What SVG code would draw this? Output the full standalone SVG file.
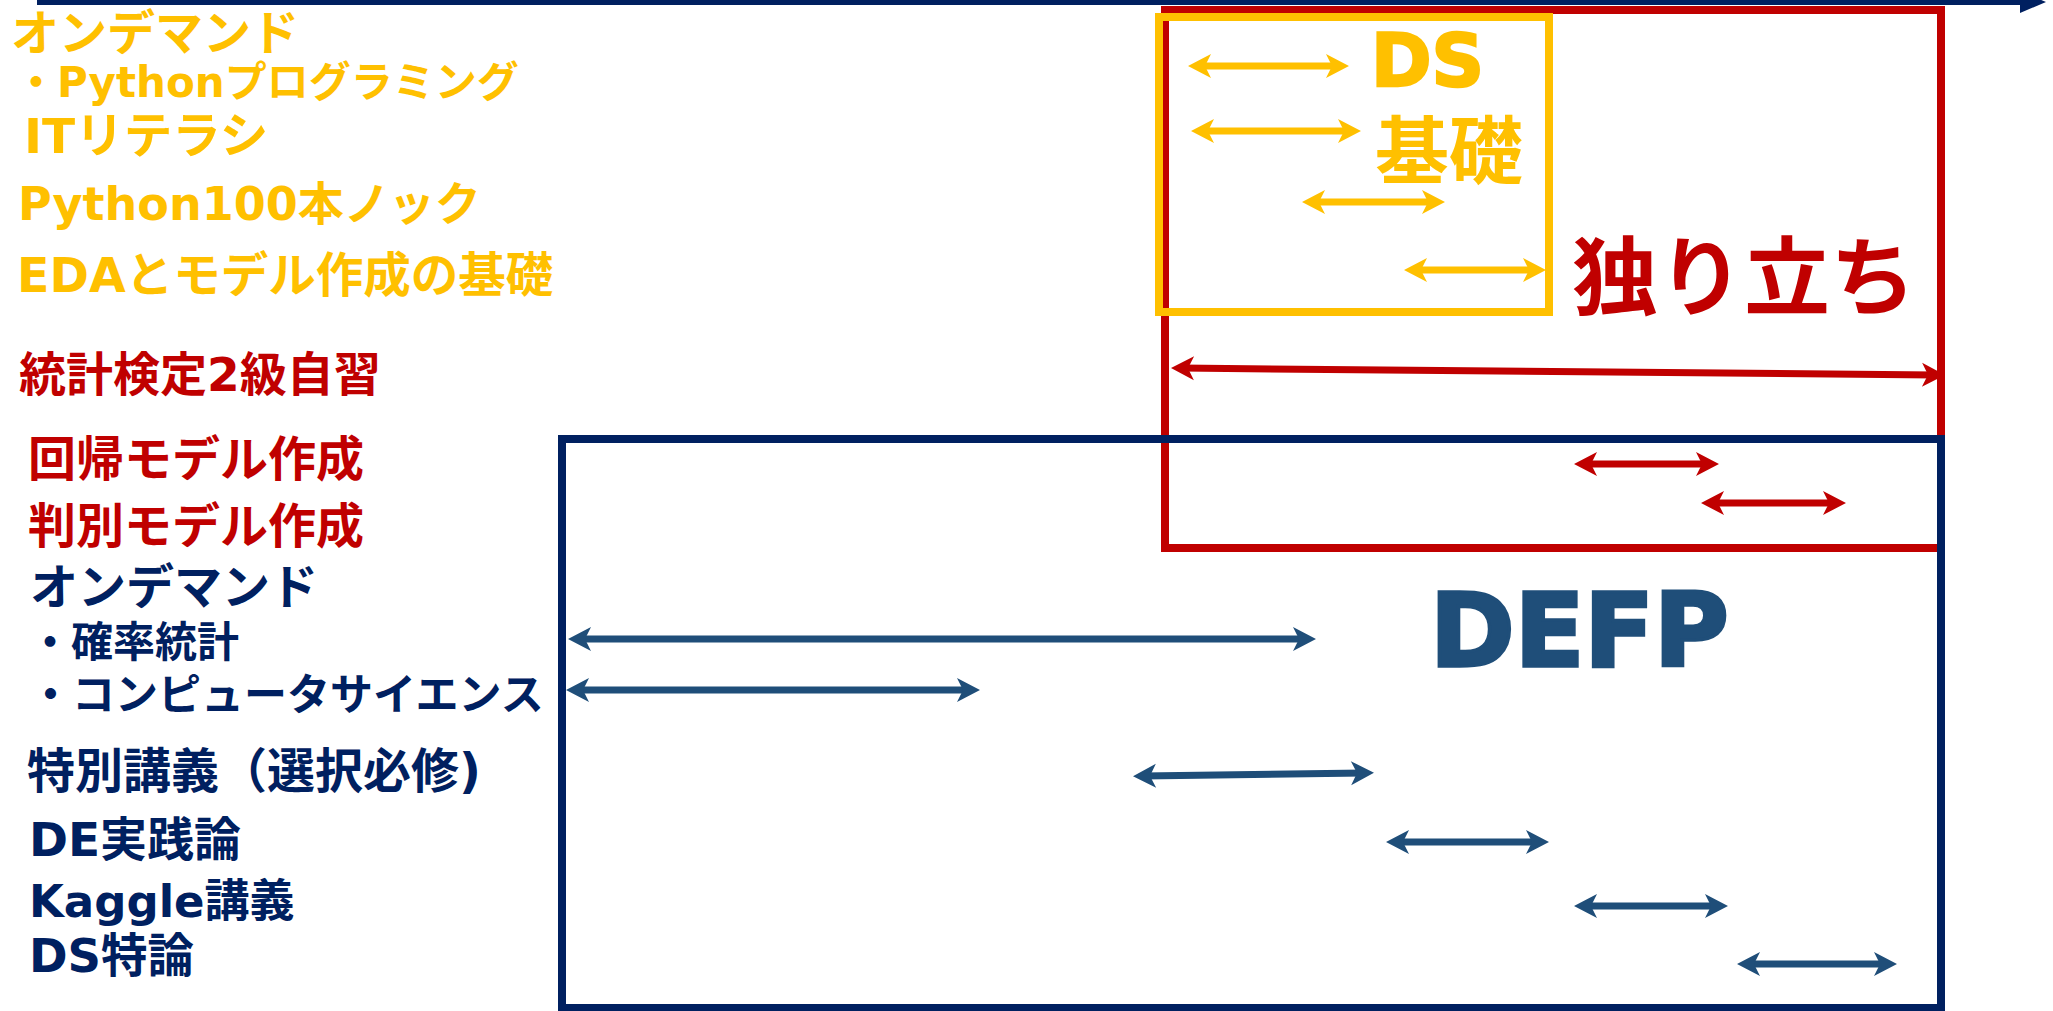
<svg xmlns="http://www.w3.org/2000/svg" width="2053" height="1011" viewBox="0 0 2053 1011">
<style>
  text { font-family: "DejaVu Sans", "Noto Sans CJK JP", sans-serif; font-weight: bold; }
  .y { fill: #FFC000; }
  .r { fill: #C00000; }
  .n { fill: #002060; }
  .b { fill: #1F4E79; }
  .box { fill: none; stroke-width: 8; }
  .ay { stroke: #FFC000; stroke-width: 7; fill: none; marker-start: url(#hy); marker-end: url(#hy); }
  .ar { stroke: #C00000; stroke-width: 7; fill: none; marker-start: url(#hr); marker-end: url(#hr); }
  .ab { stroke: #1F4E79; stroke-width: 7; fill: none; marker-start: url(#hb); marker-end: url(#hb); }
</style>
<defs>
  <marker id="hy" viewBox="-24 -13 26 26" markerWidth="26" markerHeight="26" refX="-10" refY="0" orient="auto-start-reverse" markerUnits="userSpaceOnUse">
    <path d="M0,0 L-23,-12 L-17,0 L-23,12 Z" fill="#FFC000"/>
  </marker>
  <marker id="hr" viewBox="-24 -13 26 26" markerWidth="26" markerHeight="26" refX="-10" refY="0" orient="auto-start-reverse" markerUnits="userSpaceOnUse">
    <path d="M0,0 L-23,-12 L-17,0 L-23,12 Z" fill="#C00000"/>
  </marker>
  <marker id="hb" viewBox="-24 -13 26 26" markerWidth="26" markerHeight="26" refX="-10" refY="0" orient="auto-start-reverse" markerUnits="userSpaceOnUse">
    <path d="M0,0 L-23,-12 L-17,0 L-23,12 Z" fill="#1F4E79"/>
  </marker>
</defs>
<rect width="2053" height="1011" fill="#FFFFFF"/>

<g id="timeline">
  <line x1="37" y1="2" x2="2026" y2="2" stroke="#002060" stroke-width="6"/>
  <polygon points="2020,-9 2046,2 2020,13" fill="#002060"/>
</g>

<g id="box-independent">
  <rect class="box" x="1165" y="10" width="776" height="538" stroke="#C00000"/>
  <text class="r" x="1572" y="309" font-size="86">独り立ち</text>
</g>
<g id="box-ds-basics">
  <rect class="box" x="1159" y="17" width="390" height="295" stroke="#FFC000"/>
  <text class="y" x="1371" y="86" font-size="73" stroke="#FFC000" stroke-width="2.5">DS</text>
  <text class="y" x="1375" y="178" font-size="74">基礎</text>
</g>
<g id="box-defp">
  <rect class="box" x="562" y="439" width="1379" height="569" stroke="#002060" stroke-width="7"/>
  <text class="b" x="1430" y="666" font-size="102" stroke="#1F4E79" stroke-width="3.5">DEFP</text>
</g>

<g id="label-ondemand-y"><text class="y" x="11" y="50" font-size="48">オンデマンド</text></g>
<g id="label-python-prog"><text class="y" x="15" y="97" font-size="42">・Pythonプログラミング</text></g>
<g id="label-it-literacy"><text class="y" x="24" y="153" font-size="48.5">ITリテラシ</text></g>
<g id="label-python100"><text class="y" x="18" y="220" font-size="46">Python100本ノック</text></g>
<g id="label-eda"><text class="y" x="17" y="292" font-size="47.5">EDAとモデル作成の基礎</text></g>

<g id="label-stat-test"><text class="r" x="19" y="391" font-size="47">統計検定2級自習</text></g>
<g id="label-regression"><text class="r" x="28" y="476" font-size="48">回帰モデル作成</text></g>
<g id="label-discriminant"><text class="r" x="28" y="543" font-size="48">判別モデル作成</text></g>

<g id="label-ondemand-n"><text class="n" x="30" y="604" font-size="48">オンデマンド</text></g>
<g id="label-probability"><text class="n" x="29" y="657" font-size="42">・確率統計</text></g>
<g id="label-cs"><text class="n" x="29" y="710" font-size="43">・コンピュータサイエンス</text></g>
<g id="label-special"><text class="n" x="27" y="788" font-size="48">特別講義（選択必修)</text></g>
<g id="label-de"><text class="n" x="29" y="856" font-size="47">DE実践論</text></g>
<g id="label-kaggle"><text class="n" x="29" y="917" font-size="45">Kaggle講義</text></g>
<g id="label-ds"><text class="n" x="29" y="972" font-size="46.5">DS特論</text></g>

<g id="connectors">
  <line class="ay" x1="1198" y1="66" x2="1339" y2="66"/>
  <line class="ay" x1="1201" y1="131" x2="1351" y2="131"/>
  <line class="ay" x1="1312" y1="202" x2="1435" y2="202"/>
  <line class="ay" x1="1414" y1="270" x2="1536" y2="270"/>
  <line class="ar" x1="1181" y1="368.1" x2="1935" y2="374.9"/>
  <line class="ar" x1="1584" y1="464" x2="1709" y2="464"/>
  <line class="ar" x1="1711" y1="503" x2="1836" y2="503"/>
  <line class="ab" x1="578" y1="639" x2="1306" y2="639"/>
  <line class="ab" x1="576" y1="690" x2="970" y2="690"/>
  <line class="ab" x1="1143" y1="776" x2="1364" y2="773"/>
  <line class="ab" x1="1396" y1="842" x2="1539" y2="842"/>
  <line class="ab" x1="1584" y1="906" x2="1718" y2="906"/>
  <line class="ab" x1="1747" y1="964" x2="1887" y2="964"/>
</g>
</svg>
